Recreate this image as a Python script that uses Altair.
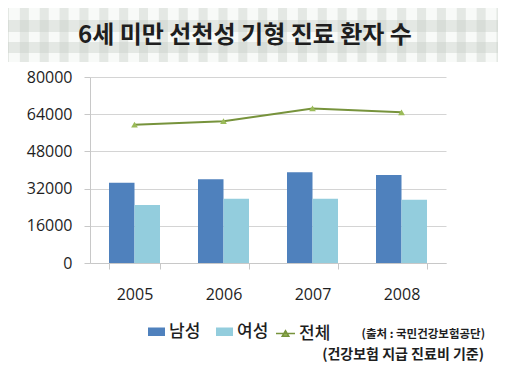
import altair as alt
import pandas as pd

years = ["2005", "2006", "2007", "2008"]
male = [34500, 36000, 39000, 37900]
female = [25000, 27600, 27600, 27200]
total = [59500, 61000, 66500, 64800]
series = ["남성", "여성"]
total_name = "전체"
y_ticks = [0, 16000, 32000, 48000, 64000, 80000]
title_text = "6세 미만 선천성 기형 진료 환자 수"
source_text = "(출처 : 국민건강보험공단)"
basis_text = "(건강보험 지급 진료비 기준)"

bar_colors = ["#4F81BD", "#93CDDD"]
line_color = "#77933C"
marker_color = "#9BBB59"
text_color = "#1E1E1E"
KR = "Noto Sans CJK KR"
NUM = "Open Sans"

W, H = 356, 186

bars_df = pd.DataFrame({
    "year": years * 2,
    "series": [series[0]] * 4 + [series[1]] * 4,
    "value": male + female,
})
line_df = pd.DataFrame({"year": years, "series": total_name, "value": total})

# decorative gingham band behind the title (pixel geometry, not data)
v_stripes = pd.DataFrame({"x0": [19.86 * k - 90 for k in range(26)]})
v_stripes["x1"] = v_stripes["x0"] + 9
h_stripes = pd.DataFrame({"y0": [-77, -57, -35], "y1": [-70, -45, -24]})

one = alt.Data(values=[{"a": 1}])

band = alt.Chart(one).mark_rect(color="#F8FAF8").encode(
    x=alt.value(-90), x2=alt.value(420), y=alt.value(-77), y2=alt.value(-15))
vs = alt.Chart(v_stripes).mark_rect(color="#C5CCC5", opacity=0.4).encode(
    x=alt.X("x0:Q", scale=None, axis=None), x2="x1:Q",
    y=alt.value(-77), y2=alt.value(-15))
hs = alt.Chart(h_stripes).mark_rect(color="#C5CCC5", opacity=0.4).encode(
    y=alt.Y("y0:Q", scale=None, axis=None), y2="y1:Q",
    x=alt.value(-90), x2=alt.value(420))

x_enc = alt.X(
    "year:N",
    scale=alt.Scale(domain=years, paddingInner=0.427, paddingOuter=0.2135),
    axis=alt.Axis(title=None, labelAngle=0, ticks=True, tickBand="extent", tickSize=6,
                  tickColor="#C8C8C8", labelPadding=17, labelFontSize=16, labelFont=NUM,
                  labelColor=text_color, domainColor="#C8C8C8", grid=False),
)
y_enc = alt.Y(
    "value:Q",
    scale=alt.Scale(domain=[0, 80000], nice=False),
    axis=alt.Axis(title=None, values=y_ticks, format="d", tickSize=6, tickColor="#C8C8C8",
                  labelPadding=12, labelFontSize=16, labelFont=NUM, labelColor=text_color,
                  domainColor="#C8C8C8", grid=True, gridColor="#D4D4D4"),
)

bars = alt.Chart(bars_df).mark_bar().encode(
    x=x_enc,
    y=y_enc,
    xOffset=alt.XOffset("series:N", scale=alt.Scale(domain=series, paddingInner=0, paddingOuter=0)),
    color=alt.Color(
        "series:N",
        scale=alt.Scale(domain=series, range=bar_colors),
        legend=alt.Legend(orient="none", legendX=58, legendY=246, direction="horizontal",
                          title=None, symbolType="M-1,-0.5H1V0.5H-1Z", symbolSize=289,
                          symbolStrokeWidth=0, labelFontSize=17, labelFont=KR,
                          labelFontWeight=500, labelColor=text_color, labelOffset=4,
                          columnPadding=15),
    ),
)

line = alt.Chart(line_df).mark_line(strokeWidth=2).encode(
    x=x_enc,
    y=y_enc,
    stroke=alt.Stroke(
        "series:N",
        scale=alt.Scale(domain=[total_name], range=[line_color]),
        legend=alt.Legend(orient="none", legendX=185, legendY=246, title=None,
                          symbolType="M-1,0H1M-0.35,0.3L0,-0.3L0.35,0.3Z", symbolSize=361,
                          symbolStrokeWidth=1.5, symbolFillColor=marker_color,
                          labelFontSize=17, labelFont=KR, labelFontWeight=500,
                          labelColor=text_color, labelOffset=3),
    ),
)
points = alt.Chart(line_df).mark_point(shape="triangle-up", filled=True, size=45,
                                       color=marker_color, opacity=1).encode(x=x_enc, y=y_enc)

title = alt.Chart(one).mark_text(text=title_text, font=KR, fontSize=24, fontWeight="bold",
                                 color=text_color, align="center", baseline="middle").encode(
    x=alt.value(155), y=alt.value(-41))
src = alt.Chart(one).mark_text(text=source_text, font=KR, fontSize=11.5, fontWeight="bold",
                               color=text_color, align="right", baseline="middle").encode(
    x=alt.value(395), y=alt.value(258))
basis = alt.Chart(one).mark_text(text=basis_text, font=KR, fontSize=14, fontWeight="bold",
                                 color=text_color, align="right", baseline="middle").encode(
    x=alt.value(394), y=alt.value(278))

chart = alt.layer(band, vs, hs, bars, line, points, title, src, basis).properties(
    width=W, height=H,
    autosize=alt.AutoSizeParams(type="none"),
    padding={"left": 82, "top": 69, "right": 52, "bottom": 103},
).configure_view(stroke=None)

chart.save("out.html", embed_options={"renderer": "svg", "actions": False})
